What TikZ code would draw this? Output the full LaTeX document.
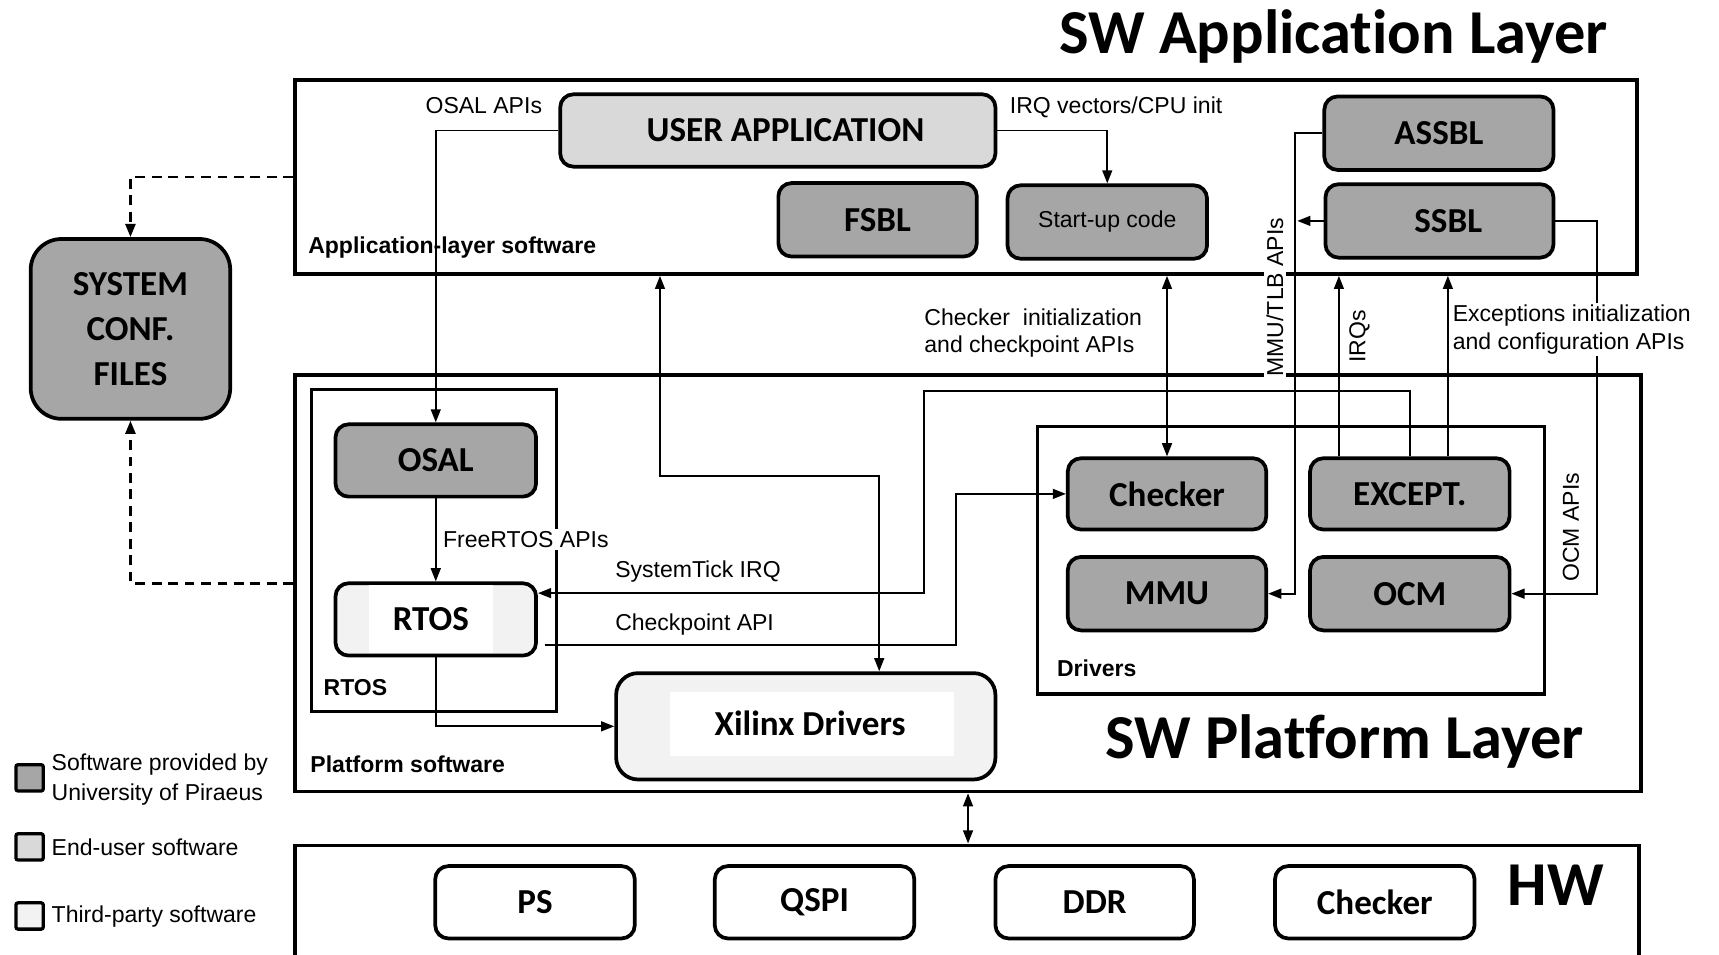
\documentclass[tikz,border=0pt]{standalone}
\usepackage{fontspec}
\setmainfont{Liberation Sans}
\newfontfamily\blkfont{Carlito}[Ligatures={NoCommon,NoContextual}]
\usetikzlibrary{arrows.meta,calc}
\definecolor{uop}{RGB}{166,166,166}
\definecolor{enduser}{RGB}{217,217,217}
\definecolor{thirdp}{RGB}{242,242,242}
\begin{document}
\begin{tikzpicture}[x=1pt,y=-1pt,
  >={Triangle[length=12pt,width=9pt]},
  layer/.style={draw, line width=3.2pt, inner sep=0pt},
  group/.style={draw, line width=2.8pt, inner sep=0pt},
  blk/.style={draw, line width=3.4pt, rounded corners=12pt, inner sep=0pt,
    font=\blkfont\bfseries\fontsize{32}{36}\selectfont},
  blktext/.style={inner sep=0pt, font=\blkfont\bfseries\fontsize{32}{36}\selectfont},
  lbl/.style={inner sep=2pt, font=\fontsize{21}{25}\selectfont},
  blbl/.style={inner sep=0pt, anchor=base west, font=\bfseries\fontsize{21}{25}\selectfont},
  conn/.style={line width=1.7pt},
  dashline/.style={line width=2.4pt, dash pattern=on 9pt off 6pt},
  title/.style={inner sep=0pt, anchor=base west, font=\blkfont\bfseries\fontsize{57}{60}\selectfont},
  legsq/.style={draw, line width=3pt, rounded corners=2pt, inner sep=0pt,
    minimum width=25pt, minimum height=24pt},
]
\useasboundingbox (0,0) rectangle (1568,871);
\clip (0,0) rectangle (1568,871);

% layer frames and groups
\node[layer, minimum width=1224pt, minimum height=177pt] (app) at (881,161.5) {};
\node[layer, minimum width=1228pt, minimum height=380pt] (plat) at (883,532) {};
\node[layer, minimum width=1226pt, minimum height=190pt] (hw) at (882,866) {};
\node[group, minimum width=224pt, minimum height=294pt] (rtosgrp) at (396,502) {};
\node[group, minimum width=463pt, minimum height=244pt] (drvgrp) at (1177.5,511) {};

% layer titles
\node[title] (tapp) at (966,49) {SW Application Layer};
\node[title] (tplat) at (1008,692) {SW Platform Layer};
\node[title] (thw) at (1375,826) {HW};

% application layer blocks
\node[blk, fill=enduser, minimum width=397pt, minimum height=66pt] (ua) at (709.5,119) {\hspace{14pt}USER APPLICATION};
\node[blk, fill=uop, minimum width=181pt, minimum height=67pt] (fsbl) at (800.5,200.5) {FSBL};
\node[blk, fill=uop, minimum width=182pt, minimum height=67pt, font=\fontsize{21}{25}\selectfont] (su) at (1010,202.5) {Start-up code};
\node[blk, fill=uop, minimum width=209pt, minimum height=67pt] (assbl) at (1312.5,121.5) {ASSBL};
\node[blk, fill=uop, minimum width=208pt, minimum height=67pt] (ssbl) at (1313,201.5) {\hspace{16pt}SSBL};

% configuration files
\node[blk, fill=uop, rounded corners=28pt, minimum width=182pt, minimum height=164pt, align=center,
  font=\blkfont\bfseries\fontsize{32}{41}\selectfont] (scf) at (119,300) {SYSTEM\\CONF.\\FILES};

% platform layer blocks
\node[blk, fill=uop, minimum width=183pt, minimum height=66pt] (osal) at (397.5,420) {OSAL};
\node[blk, fill=thirdp, minimum width=183pt, minimum height=66pt] (rtos) at (397.5,565) {};
\fill[white] (337,534) rectangle (450,596);
\node[blktext] (rtoslbl) at (393,565) {RTOS};
\node[blk, fill=thirdp, rounded corners=20pt, minimum width=346pt, minimum height=97pt] (xil) at (735,662.5) {};
\fill[white] (611,631) rectangle (870,690);
\node[blktext] (xillbl) at (739,660) {Xilinx Drivers};

\node[blk, fill=uop, minimum width=181pt, minimum height=65pt] (chk) at (1064.5,450.5) {Checker};
\node[blk, fill=uop, minimum width=182pt, minimum height=65pt] (exc) at (1286,450.5) {EXCEPT.};
\node[blk, fill=uop, minimum width=181pt, minimum height=67pt] (mmu) at (1064.5,541.5) {MMU};
\node[blk, fill=uop, minimum width=182pt, minimum height=67pt] (ocm) at (1286,541.5) {OCM};

% hardware blocks
\node[blk, fill=white, minimum width=182pt, minimum height=66pt] (ps) at (488,823) {PS};
\node[blk, fill=white, minimum width=182pt, minimum height=66pt] (qspi) at (743,823) {QSPI};
\node[blk, fill=white, minimum width=181pt, minimum height=66pt] (ddr) at (998.5,823) {DDR};
\node[blk, fill=white, minimum width=182pt, minimum height=66pt] (hwchk) at (1254,823) {Checker};

% connectors
\draw[conn,->] (ua.west) -| (osal.north);
\draw[conn,->] (ua.east) -| (su.north);
\draw[conn,->] (assbl.west) -- ++(-25,0) |- (mmu.east);
\draw[conn,->] (ssbl.west) -- ++(-24,0);
\draw[conn,->] (ssbl.east) -- ++(38,0) |- (ocm.east);
\draw[conn,<->] (chk.north) -- (chk.north |- app.south);
\coordinate (irqf) at ($(exc.north west)+(28,0)$);
\coordinate (excf) at ($(exc.north east)+(-58,0)$);
\draw[conn,->] (irqf) -- (irqf |- app.south);
\draw[conn,->] (excf) -- (excf |- app.south);
\coordinate (stk) at (843,357);
\draw[conn,->] (exc.north) |- (stk) |- ($(rtos.east)+(0,-24)$);
\coordinate (cpk) at (872,0);
\draw[conn,->] ($(rtos.east)+(6,23)$) -| (cpk |- chk.west) -- (chk.west);
\coordinate (xa) at (602,434);
\draw[conn,<->] (xa |- app.south) -- (xa) -| ($(xil.north)+(67,0)$);
\draw[conn,->] (rtos.south) |- (xil.west);
\draw[conn,->] (osal.south) -- (rtos.north);
\draw[conn,<->] (plat.south) -- (plat.south |- hw.north);
\draw[dashline,->] (app.west) -| (scf.north);
\draw[dashline,->] (plat.west) -| (scf.south);

% connector labels
\node[lbl, anchor=base west] (losal) at (386,103.5) {OSAL APIs};
\node[lbl, anchor=base west] (lirq) at (919,103.5) {IRQ vectors/CPU init};
\node[lbl, anchor=west, align=left] (lchk) at (841,304) {Checker\ \ initialization\\and checkpoint APIs};
\node[lbl, anchor=west, align=left, fill=white] (lexc) at (1323,300.5) {Exceptions initialization\\and configuration APIs};
\node[lbl, rotate=90, fill=white] (lmmu) at (1163,271) {MMU/TLB APIs};
\node[lbl, rotate=90] (lirqs) at (1240,307) {IRQs};
\node[lbl, rotate=90] (locm) at (1433,481) {OCM APIs};
\node[lbl, anchor=west, fill=white] (lfree) at (402,492) {FreeRTOS APIs};
\node[lbl, anchor=west] (ltick) at (559,521) {SystemTick IRQ};
\node[lbl, anchor=west] (lcp) at (559,570) {Checkpoint API};

% frame labels
\node[blbl] (gapp) at (281,231.5) {Application-layer software};
\node[blbl] (grtos) at (295,634.5) {RTOS};
\node[blbl] (gplat) at (283,704.5) {Platform software};
\node[blbl] (gdrv) at (964,617.5) {Drivers};

% legend
\node[legsq, fill=uop] (lg1) at (27,709.5) {};
\node[legsq, fill=enduser] (lg2) at (27,772.5) {};
\node[legsq, fill=thirdp] (lg3) at (27,835.5) {};
\node[lbl, anchor=west, align=left, font=\fontsize{21}{28}\selectfont] (lg1t) at (45,711) {Software provided by\\University of Piraeus};
\node[lbl, anchor=west] (lg2t) at (45,773) {End-user software};
\node[lbl, anchor=west] (lg3t) at (45,836) {Third-party software};
\end{tikzpicture}
\end{document}
